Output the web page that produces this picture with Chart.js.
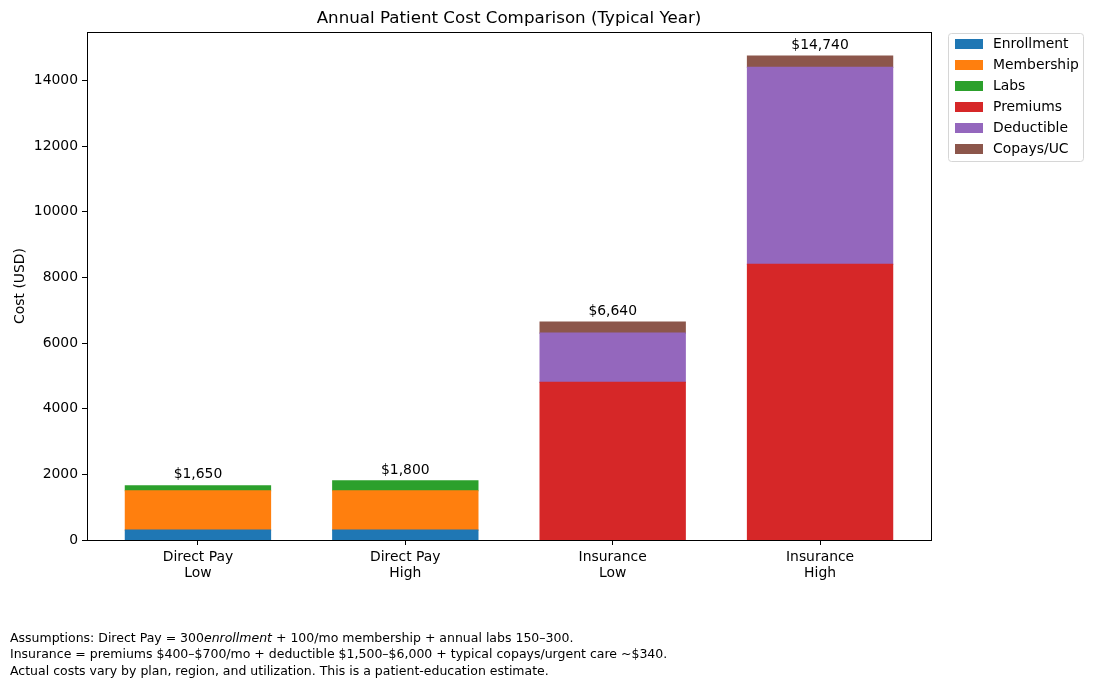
<!DOCTYPE html>
<html>
<head>
<meta charset="utf-8">
<script src="https://cdn.jsdelivr.net/npm/chart.js@4.4.1/dist/chart.umd.min.js"></script>
<style>
  html, body { margin: 0; padding: 0; background: #fff; }
  #wrap { width: 1093px; height: 688px; position: relative; }
</style>
</head>
<body>
<div id="wrap"><canvas id="chart"></canvas></div>
<script>
// data
const categories = [['Direct Pay', 'Low'], ['Direct Pay', 'High'], ['Insurance', 'Low'], ['Insurance', 'High']];
const enrollment = [300, 300, 0, 0];
const membership = [1200, 1200, 0, 0];
const labs = [150, 300, 0, 0];
const premiums = [0, 0, 4800, 8400];
const deductible = [0, 0, 1500, 6000];
const copays = [0, 0, 340, 340];
const yTicks = [0, 2000, 4000, 6000, 8000, 10000, 12000, 14000];

const seriesNames = ['Enrollment', 'Membership', 'Labs', 'Premiums', 'Deductible', 'Copays/UC'];
const series = [enrollment, membership, labs, premiums, deductible, copays];
const colors = ['#1f77b4', '#ff7f0e', '#2ca02c', '#d62728', '#9467bd', '#8c564b'];

const totals = categories.map((c, i) => series.reduce((s, arr) => s + arr[i], 0));
const yMax = Math.max(...totals) * 1.05;

const FONT = "'DejaVu Sans', sans-serif";

const footnote = [
  [['Assumptions: Direct Pay = 300', false], ['enrollment', true], [' + 100/mo membership + annual labs 150–300.', false]],
  [['Insurance = premiums $400–$700/mo + deductible $1,500–$6,000 + typical copays/urgent care ~$340.', false]],
  [['Actual costs vary by plan, region, and utilization. This is a patient-education estimate.', false]]
];

// frame, title, value labels, legend, footnote
const extras = {
  id: 'extras',
  afterDraw(chart) {
    const ctx = chart.ctx;
    const a = chart.chartArea;
    const y = chart.scales.y, x = chart.scales.x;
    ctx.save();
    ctx.strokeStyle = '#000';
    ctx.lineWidth = 1;
    ctx.strokeRect(Math.round(a.left) + 0.5, Math.round(a.top) + 0.5, Math.round(a.right - a.left), Math.round(a.bottom - a.top));

    ctx.fillStyle = '#000';
    ctx.textAlign = 'center';
    ctx.textBaseline = 'middle';
    ctx.font = '16.7px ' + FONT;
    ctx.fillText('Annual Patient Cost Comparison (Typical Year)', (a.left + a.right) / 2, 19);

    ctx.font = '13.9px ' + FONT;
    ctx.textBaseline = 'bottom';
    totals.forEach((t, i) => {
      ctx.fillText('$' + t.toLocaleString('en-US'), x.getPixelForValue(i), y.getPixelForValue(t) - 4);
    });

    // legend
    const lx = 948, ly = 33, lw = 135, lh = 128;
    ctx.beginPath();
    ctx.roundRect(lx + 0.5, ly + 0.5, lw, lh, 3);
    ctx.fillStyle = 'rgba(255,255,255,0.8)';
    ctx.fill();
    ctx.strokeStyle = '#d6d6d6';
    ctx.stroke();
    ctx.textAlign = 'left';
    ctx.textBaseline = 'middle';
    chart.data.datasets.forEach((ds, i) => {
      const cy = 44 + i * 21;
      ctx.fillStyle = ds.backgroundColor;
      ctx.fillRect(955, cy - 5, 28, 10);
      ctx.fillStyle = '#000';
      ctx.fillText(ds.label, 993, cy);
    });

    // footnote
    ctx.textBaseline = 'alphabetic';
    const baselines = [642, 658, 675];
    footnote.forEach((parts, li) => {
      let fx = 10;
      parts.forEach(([txt, ital]) => {
        ctx.font = (ital ? 'italic ' : '') + '12.5px ' + FONT;
        ctx.fillText(txt, fx, baselines[li]);
        fx += ctx.measureText(txt).width;
      });
    });
    ctx.restore();
  }
};

new Chart(document.getElementById('chart'), {
  type: 'bar',
  data: {
    datasets: series.map((arr, k) => ({
      label: seriesNames[k],
      // empty segments are skipped so they leave no hairline
      data: arr.map((v, i) => ({ x: i, y: v === 0 ? null : v })),
      backgroundColor: colors[k],
      borderWidth: 0,
      inflateAmount: 0.6,
      barPercentage: 0.7,
      categoryPercentage: 1.0
    }))
  },
  options: {
    responsive: true,
    maintainAspectRatio: false,
    animation: false,
    layout: { padding: { left: 0, top: 32, right: 162, bottom: 88 } },
    plugins: {
      legend: { display: false },
      title: { display: false },
      tooltip: { enabled: false }
    },
    scales: {
      x: {
        type: 'linear',
        stacked: true,
        offset: false,
        min: -0.535,
        max: 3.535,
        afterBuildTicks: s => { s.ticks = categories.map((c, i) => ({ value: i })); },
        afterFit: s => { s.height = 60; },
        ticks: {
          callback: v => categories[v],
          color: '#000',
          font: { family: FONT, size: 13.9, lineHeight: 1.15 },
          padding: 4,
          maxRotation: 0
        },
        grid: { offset: false, drawOnChartArea: false, drawTicks: true, tickLength: 5, tickColor: '#000' },
        border: { display: true, color: '#000' }
      },
      y: {
        stacked: true,
        min: 0,
        max: yMax,
        afterBuildTicks: s => { s.ticks = yTicks.map(v => ({ value: v })); },
        afterFit: s => { s.width = 87; },
        ticks: {
          callback: v => String(v),
          color: '#000',
          font: { family: FONT, size: 13.9 },
          padding: 4
        },
        title: {
          display: true,
          text: 'Cost (USD)',
          color: '#000',
          font: { family: FONT, size: 13.9 },
          padding: { top: 12, bottom: 0 }
        },
        grid: { drawOnChartArea: false, drawTicks: true, tickLength: 5, tickColor: '#000' },
        border: { display: true, color: '#000' }
      }
    }
  },
  plugins: [extras]
});
</script>
</body>
</html>
